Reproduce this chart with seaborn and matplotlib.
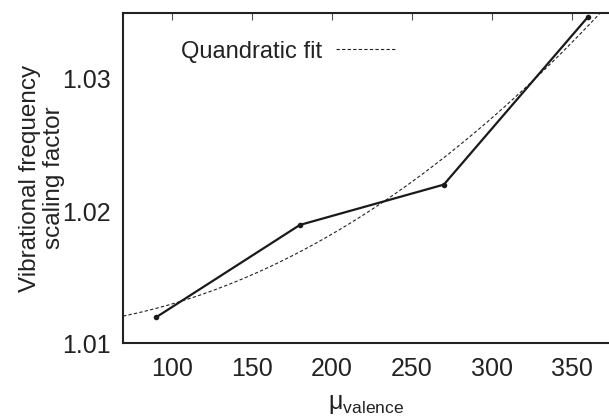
import numpy as np
import pandas as pd
import matplotlib
matplotlib.use("Agg")
import matplotlib.pyplot as plt
import seaborn as sns

mu_valence = [90, 180, 270, 360]
scaling_factor = [1.01196, 1.01895, 1.0220, 1.03466]
x_ticks = [100, 150, 200, 250, 300, 350]
y_ticks = [1.01, 1.02, 1.03]
y_tick_labels = ["1.01", "1.02", "1.03"]
legend_label = "Quandratic fit"

sns.set_theme(style="white")
plt.rcParams['font.family'] = ['Liberation Sans', 'DejaVu Sans']
plt.rcParams['mathtext.fontset'] = 'custom'
plt.rcParams['mathtext.rm'] = 'Liberation Sans'
plt.rcParams['mathtext.it'] = 'Liberation Sans:italic'

df = pd.DataFrame({"x": mu_valence, "y": scaling_factor})
coef = np.polyfit(mu_valence, scaling_factor, 2)
xf = np.linspace(69.4, 373.3, 300)
fit = pd.DataFrame({"x": xf, "y": np.polyval(coef, xf)})

fig = plt.figure(figsize=(6.09, 4.16), dpi=100)
ax = fig.add_axes([123/609, 1 - 343.3/416, (609 - 123)/609, (343.3 - 12.7)/416])

sns.lineplot(data=fit, x="x", y="y", ax=ax, color="#222222", lw=0.8,
             linestyle=(0, (3, 2)), label=legend_label)
sns.lineplot(data=df, x="x", y="y", ax=ax, color="#1a1a1a", lw=1.6,
             marker="o", markersize=4, markeredgewidth=0, label="_nolegend_")

ax.set_xlim(69.4, 373.3)
ax.set_ylim(1.01, 1.035)
ax.set_xticks(x_ticks)
ax.set_yticks(y_ticks)
ax.set_yticklabels(y_tick_labels)
ax.tick_params(axis="both", direction="in", length=5, width=0.8, color="#555555",
               labelsize=18, top=True, right=False, labelcolor="#222222")
ax.tick_params(axis="x", pad=10)
ax.tick_params(axis="y", pad=9)
for side in ["left", "bottom", "top"]:
    ax.spines[side].set_linewidth(1.5)
    ax.spines[side].set_color("#222222")
ax.spines["right"].set_visible(False)

ax.set_xlabel(r"μ$_{\mathrm{valence}}$", fontsize=18, color="#222222", labelpad=8)
ax.set_ylabel("Vibrational frequency\nscaling factor", fontsize=17.5, color="#222222",
              labelpad=-2, linespacing=1.1)

leg = ax.legend(loc="upper left", bbox_to_anchor=(0.075, 0.98), frameon=False,
                markerfirst=False, fontsize=17, handlelength=2.6, handletextpad=0.6)
for t in leg.get_texts():
    t.set_color("#222222")

fig.savefig("out.png", dpi=100)
